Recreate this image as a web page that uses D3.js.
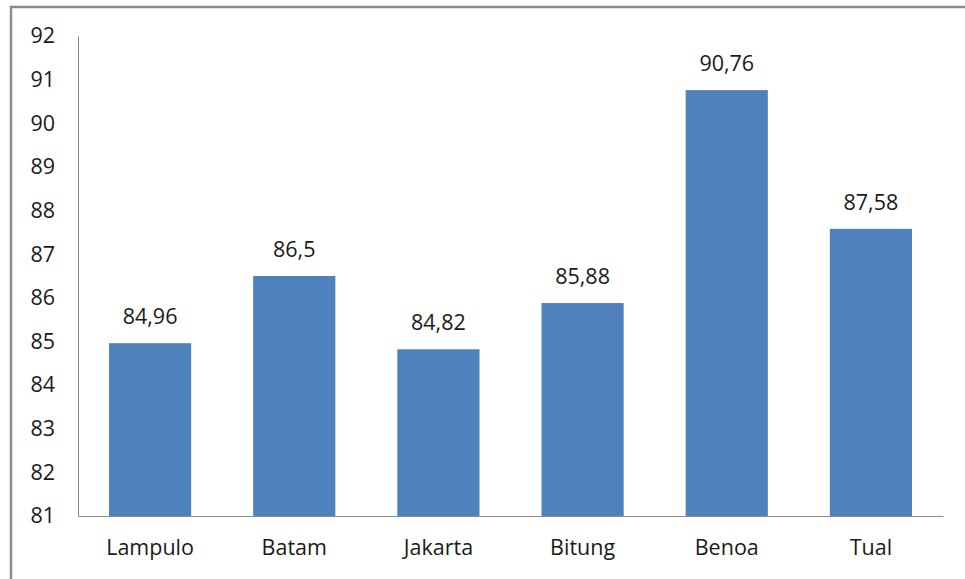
<!DOCTYPE html>
<html>
<head>
<meta charset="utf-8">
<script src="https://cdn.jsdelivr.net/npm/d3@7"></script>
<style>
  html, body { margin: 0; padding: 0; background: #fff; }
  svg { display: block; }
  text { font-family: "Open Sans", "Noto Sans", sans-serif; fill: #1a1a1a; }
</style>
</head>
<body>
<svg id="chart" width="965" height="579"></svg>
<script>
const categories = ["Lampulo", "Batam", "Jakarta", "Bitung", "Benoa", "Tual"];
const values = [84.96, 86.5, 84.82, 85.88, 90.76, 87.58];
const labels = ["84,96", "86,5", "84,82", "85,88", "90,76", "87,58"];
const yTicks = [81, 82, 83, 84, 85, 86, 87, 88, 89, 90, 91, 92];

const svg = d3.select("#chart");
const plotLeft = 78, plotRight = 943, plotTop = 36, plotBottom = 516;
const fontSize = 21.5;

// outer frame (open on the right and bottom)
svg.append("path")
  .attr("d", `M11,579 V7 H965`)
  .attr("fill", "none")
  .attr("stroke", "#8c8c8c")
  .attr("stroke-width", 2.5);

const x = d3.scaleBand().domain(categories).range([plotLeft, plotRight]).paddingInner(0.43).paddingOuter(0.215);
const y = d3.scaleLinear().domain([81, 92]).range([plotBottom, plotTop]);

// bars
svg.append("g").selectAll("rect").data(values).join("rect")
  .attr("x", (d, i) => x(categories[i]))
  .attr("y", d => y(d))
  .attr("width", x.bandwidth())
  .attr("height", d => y(81) - y(d))
  .attr("fill", "#4f81bd");

// value labels
svg.append("g").selectAll("text").data(values).join("text")
  .attr("x", (d, i) => x(categories[i]) + x.bandwidth() / 2)
  .attr("y", d => y(d) - 19)
  .attr("text-anchor", "middle")
  .attr("font-size", fontSize)
  .text((d, i) => labels[i]);

// y axis
const yAxis = svg.append("g").attr("transform", `translate(${plotLeft},0)`)
  .call(d3.axisLeft(y).tickValues(yTicks).tickSize(0).tickPadding(23).tickFormat(d3.format("d")));
yAxis.select(".domain").attr("stroke", "#8c8c8c");
yAxis.selectAll("text").attr("font-size", fontSize).attr("fill", "#1a1a1a").attr("font-family", "Open Sans, sans-serif");

// x axis
const xAxis = svg.append("g").attr("transform", `translate(0,${plotBottom})`)
  .call(d3.axisBottom(x).tickSize(0).tickPadding(24));
xAxis.select(".domain").attr("stroke", "#8c8c8c");
xAxis.selectAll("text").attr("font-size", fontSize).attr("fill", "#1a1a1a").attr("font-family", "Open Sans, sans-serif");
</script>
</body>
</html>
